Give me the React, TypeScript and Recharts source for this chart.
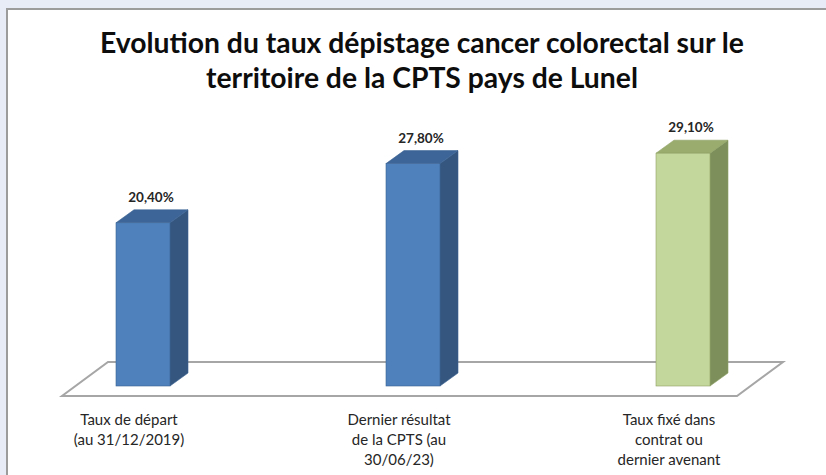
import React from 'react';
import { BarChart, Bar, XAxis, YAxis, ReferenceArea, LabelList } from 'recharts';

const categories = [
  'Taux de départ\n(au 31/12/2019)',
  'Dernier résultat\nde la CPTS (au\n30/06/23)',
  'Taux fixé dans\ncontrat ou\ndernier avenant',
];
const rates = [20.4, 27.8, 29.1];
const titleLines = [
  'Evolution du taux dépistage cancer colorectal sur le',
  'territoire de la CPTS pays de Lunel',
];
const yDomain = [0, 35];

const BLUE = { front: '#4f81bd', side: '#34567f', top: '#3e6598', edge: '#3b6392' };
const GREEN = { front: '#c3d69b', side: '#7d8f5b', top: '#9aad6e', edge: '#8fa164' };
const palettes = [BLUE, BLUE, GREEN];

const data = categories.map((c, i) => ({ category: c, rate: rates[i] }));

const DX = 18;
const DY = 13;
const FONT = 'Lato, "Open Sans", sans-serif';

const Bar3D = (props: any) => {
  const { x, y, width, height, payload } = props;
  const idx = categories.indexOf(payload?.category);
  const p = palettes[idx >= 0 ? idx : 0];
  const top = `${x},${y} ${x + DX},${y - DY} ${x + width + DX},${y - DY} ${x + width},${y}`;
  const side = `${x + width},${y} ${x + width + DX},${y - DY} ${x + width + DX},${y + height - DY} ${x + width},${y + height}`;
  return (
    <g>
      <polygon points={side} fill={p.side} stroke={p.edge} strokeWidth={0.6} />
      <polygon points={top} fill={p.top} stroke={p.edge} strokeWidth={0.6} />
      <rect x={x} y={y} width={width} height={height} fill={p.front} stroke={p.edge} strokeWidth={0.6} />
    </g>
  );
};

const Floor = (props: any) => {
  const { x, y, width, height } = props;
  const y0 = y + height;
  const left = x;
  const right = x + width;
  const pts = `${left + 54},${y0 + 10} ${right - 81},${y0 + 10} ${right - 35},${y0 - 24} ${left + 100},${y0 - 24}`;
  return <polygon points={pts} fill="#ffffff" stroke="#a6a6a6" strokeWidth={2} />;
};

const CategoryTick = (props: any) => {
  const { x, y, payload } = props;
  const lines = String(payload.value).split('\n');
  return (
    <g>
      {lines.map((l, i) => (
        <text
          key={i}
          x={x - 14}
          y={y + 39 + i * 20}
          textAnchor="middle"
          fontFamily={FONT}
          fontSize={15}
          fill="#262626"
        >
          {l}
        </text>
      ))}
    </g>
  );
};

const ValueLabel = (props: any) => {
  const { x, y, width, value } = props;
  const txt = Number(value).toFixed(2).replace('.', ',') + '%';
  return (
    <text
      x={x + width / 2 + 8}
      y={y - 21}
      textAnchor="middle"
      fontFamily={FONT}
      fontWeight="bold"
      fontSize={13.5}
      fill="#262626"
    >
      {txt}
    </text>
  );
};

export default function App() {
  return (
    <div
      style={{
        position: 'fixed',
        left: 0,
        top: 0,
        width: 826,
        height: 475,
        background: '#e8ecf6',
        overflow: 'hidden',
      }}
    >
      <svg width={826} height={475} style={{ position: 'absolute', left: 0, top: 0 }}>
        <rect x={7} y={9} width={840} height={490} fill="#ffffff" stroke="#9c9c9c" strokeWidth={2} />
        {titleLines.map((t, i) => (
          <text
            key={i}
            x={422}
            y={53 + i * 35}
            textAnchor="middle"
            fontFamily={FONT}
            fontWeight="bold"
            fontSize={28.3}
            fill="#0d0d0d"
          >
            {t}
          </text>
        ))}
      </svg>
      <div style={{ position: 'absolute', left: 0, top: 0 }}>
        <BarChart
          width={826}
          height={475}
          data={data}
          margin={{ top: 106, right: 8, bottom: 59, left: 8 }}
          barSize={54}
        >
          <XAxis
            dataKey="category"
            axisLine={false}
            tickLine={false}
            tickSize={0}
            tickMargin={0}
            height={30}
            interval={0}
            tick={<CategoryTick />}
          />
          <YAxis hide domain={yDomain} type="number" />
          <ReferenceArea y1={0} y2={1} ifOverflow="visible" shape={<Floor />} />
          <Bar dataKey="rate" shape={<Bar3D />} isAnimationActive={false}>
            <LabelList dataKey="rate" content={<ValueLabel />} />
          </Bar>
        </BarChart>
      </div>
    </div>
  );
}
